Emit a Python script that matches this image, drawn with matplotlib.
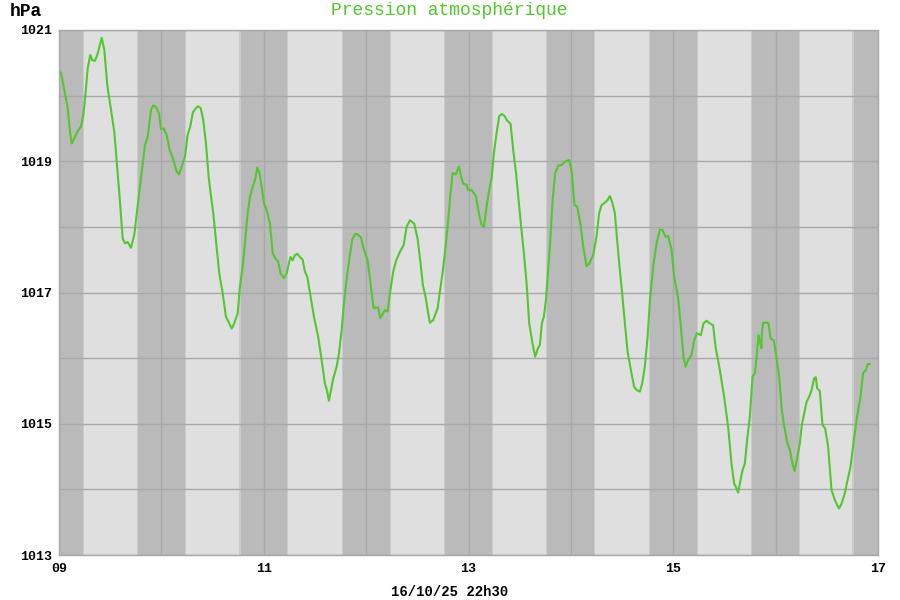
"""Pression atmosphérique : courbe sur 8 jours avec bandes jour/nuit."""

import matplotlib
import matplotlib.pyplot as plt
import numpy as np

matplotlib.use("Agg")

# heures écoulées depuis le 09 à 00h00
hours = [
    0.47, 1.24, 2.04, 2.58, 2.98, 3.59, 4.38, 5.16, 5.70, 6.26, 6.73, 7.34,
    7.80, 8.44, 9.07, 10.01, 10.62, 11.32, 12.02, 12.96, 13.66, 14.30, 14.93,
    15.47, 16.10, 16.88, 17.65, 18.45, 19.22, 20.16, 20.79, 21.56, 22.10,
    22.73, 23.44, 23.91, 24.54, 25.24, 25.95, 26.72, 27.59, 28.13, 28.76,
    29.53, 30.16, 30.77, 31.41, 31.88, 32.58, 33.21, 33.82, 34.45, 35.09,
    35.55, 36.16, 36.80, 37.57, 38.37, 39.14, 39.77, 40.48, 41.09, 41.88,
    42.42, 43.05, 43.59, 44.13, 44.77, 45.40, 45.94, 46.48, 46.95, 47.51,
    48.05, 48.68, 49.45, 50.09, 50.70, 51.40, 51.96, 52.73, 53.37, 53.98,
    54.30, 54.77, 55.31, 55.85, 56.48, 57.12, 57.66, 58.20, 58.99, 59.77,
    60.77, 61.57, 62.34, 62.81, 63.28, 63.75, 64.29, 65.09, 65.63, 66.26,
    66.87, 67.50, 68.13, 68.74, 69.38, 69.91, 70.78, 71.41, 72.35, 73.13,
    73.76, 74.23, 74.84, 75.30, 75.77, 76.41, 77.04, 77.58, 78.35, 79.05,
    79.92, 80.79, 81.49, 82.27, 83.27, 84.07, 84.68, 85.31, 85.95, 86.55,
    86.95, 87.73, 88.76, 89.37, 90.00, 90.63, 91.24, 91.71, 92.27, 93.05,
    93.75, 94.38, 94.76, 95.55, 95.93, 96.73, 97.73, 98.51, 99.07, 99.61,
    100.24, 100.85, 101.41, 101.95, 102.59, 103.20, 103.83, 104.46, 105.07,
    105.87, 106.48, 107.11, 107.74, 108.35, 108.98, 109.62, 110.23, 111.02,
    111.63, 112.27, 112.73, 113.20, 113.67, 114.14, 114.61, 115.08, 115.71,
    116.32, 117.12, 117.82, 118.52, 119.60, 120.23, 120.86, 121.48, 122.27,
    122.88, 123.68, 124.29, 125.23, 126.00, 126.63, 127.19, 127.97, 128.60,
    129.14, 129.68, 130.31, 130.78, 131.41, 132.02, 132.66, 133.29, 134.06,
    134.84, 135.47, 136.17, 136.71, 137.34, 137.98, 138.59, 139.38, 140.16,
    140.86, 141.49, 142.20, 142.80, 143.60, 144.21, 145.15, 145.78, 146.41,
    146.88, 147.49, 148.29, 148.90, 149.53, 150.47, 151.10, 151.80, 152.58,
    153.35, 153.91, 154.92, 155.93, 156.87, 157.66, 158.27, 158.67, 159.21,
    159.77, 160.24, 160.78, 161.32, 161.95, 162.59, 163.13, 163.52, 163.99,
    164.30, 164.70, 164.77, 165.07, 165.87, 166.34, 166.81, 167.58, 168.21,
    168.82, 169.45, 169.92, 170.70, 171.33, 171.96, 172.43, 173.04, 173.67,
    174.14, 174.61, 175.24, 175.85, 176.41, 177.02, 177.42, 177.73, 178.36,
    178.99, 179.60, 180.31, 181.10, 181.88, 182.42, 182.88, 183.44, 184.22,
    184.76, 185.55, 186.33, 187.10, 187.90, 188.51, 189.14, 189.61, 190.08,
]
pressure = [
    1020.35, 1020.09, 1019.81, 1019.45, 1019.27, 1019.35, 1019.46, 1019.53,
    1019.70, 1020.06, 1020.42, 1020.62, 1020.54, 1020.53, 1020.64, 1020.88,
    1020.70, 1020.16, 1019.86, 1019.45, 1018.89, 1018.38, 1017.82, 1017.75,
    1017.77, 1017.68, 1017.88, 1018.33, 1018.74, 1019.25, 1019.37, 1019.78,
    1019.85, 1019.83, 1019.73, 1019.49, 1019.50, 1019.40, 1019.17, 1019.04,
    1018.84, 1018.80, 1018.92, 1019.07, 1019.40, 1019.53, 1019.75, 1019.79,
    1019.84, 1019.81, 1019.63, 1019.27, 1018.76, 1018.51, 1018.21, 1017.80,
    1017.29, 1016.99, 1016.63, 1016.55, 1016.45, 1016.53, 1016.68, 1017.09,
    1017.39, 1017.75, 1018.15, 1018.46, 1018.61, 1018.71, 1018.90, 1018.84,
    1018.61, 1018.36, 1018.26, 1018.05, 1017.60, 1017.52, 1017.47, 1017.29,
    1017.22, 1017.29, 1017.47, 1017.54, 1017.49, 1017.57, 1017.59, 1017.54,
    1017.50, 1017.32, 1017.24, 1016.93, 1016.63, 1016.32, 1015.97, 1015.61,
    1015.51, 1015.35, 1015.51, 1015.69, 1015.87, 1016.07, 1016.43, 1016.88,
    1017.24, 1017.54, 1017.80, 1017.89, 1017.89, 1017.84, 1017.67, 1017.49,
    1017.09, 1016.76, 1016.77, 1016.77, 1016.61, 1016.66, 1016.73, 1016.71,
    1016.99, 1017.32, 1017.49, 1017.62, 1017.72, 1018.00, 1018.10, 1018.05,
    1017.82, 1017.49, 1017.11, 1016.93, 1016.68, 1016.54, 1016.58, 1016.76,
    1017.04, 1017.34, 1017.70, 1018.10, 1018.46, 1018.82, 1018.80, 1018.92,
    1018.74, 1018.66, 1018.64, 1018.56, 1018.56, 1018.47, 1018.18, 1018.03,
    1018.00, 1018.31, 1018.56, 1018.74, 1019.12, 1019.43, 1019.69, 1019.72,
    1019.69, 1019.62, 1019.57, 1019.17, 1018.84, 1018.41, 1018.00, 1017.60,
    1017.14, 1016.53, 1016.22, 1016.02, 1016.15, 1016.20, 1016.53, 1016.63,
    1016.88, 1017.29, 1017.70, 1018.41, 1018.82, 1018.94, 1018.94, 1018.99,
    1019.02, 1018.82, 1018.33, 1018.31, 1018.03, 1017.70, 1017.40, 1017.44,
    1017.57, 1017.85, 1018.21, 1018.33, 1018.37, 1018.41, 1018.47, 1018.38,
    1018.21, 1017.85, 1017.39, 1016.99, 1016.53, 1016.10, 1015.82, 1015.56,
    1015.51, 1015.49, 1015.61, 1015.87, 1016.32, 1016.93, 1017.44, 1017.77,
    1017.96, 1017.95, 1017.85, 1017.86, 1017.65, 1017.24, 1016.91, 1016.48,
    1016.02, 1015.87, 1015.97, 1016.05, 1016.27, 1016.38, 1016.35, 1016.53,
    1016.57, 1016.53, 1016.50, 1016.17, 1015.82, 1015.41, 1014.95, 1014.39,
    1014.09, 1014.04, 1013.95, 1014.14, 1014.29, 1014.39, 1014.75, 1015.11,
    1015.72, 1015.77, 1016.00, 1016.35, 1016.25, 1016.15, 1016.38, 1016.54,
    1016.54, 1016.53, 1016.30, 1016.27, 1016.00, 1015.72, 1015.21, 1015.00,
    1014.72, 1014.60, 1014.39, 1014.28, 1014.47, 1014.70, 1014.98, 1015.13,
    1015.33, 1015.41, 1015.51, 1015.69, 1015.71, 1015.54, 1015.50, 1014.98,
    1014.93, 1014.65, 1013.99, 1013.84, 1013.76, 1013.71, 1013.78, 1013.94,
    1014.11, 1014.34, 1014.75, 1015.11, 1015.41, 1015.77, 1015.82, 1015.91,
    1015.91,
]

# lever / coucher (heure locale) pour les jours 09 à 16
days = [9, 10, 11, 12, 13, 14, 15, 16]
sunrise = [5.55, 5.53, 5.51, 5.58, 5.55, 5.40, 5.50, 5.40]
sunset = [18.59, 18.59, 18.63, 18.50, 18.45, 18.50, 18.40, 18.30]

x_ticks = [9, 11, 13, 15, 17]
x_labels = ["09", "11", "13", "15", "17"]
y_ticks = [1013, 1015, 1017, 1019, 1021]

GREEN = "#52c72e"
DARK = "#bababa"
LIGHT = "#dfdfdf"
EDGE = "#cbcbcb"
GRID = "#a8a8a8"
MONO = "Liberation Mono"

fig = plt.figure(figsize=(9, 6), dpi=100)
ax = fig.add_axes([59 / 900, 45 / 600, 819 / 900, 525 / 600])
ax.set_facecolor(LIGHT)

# bandes de nuit (légèrement adoucies sur les bords)
soft = 0.012
nights = [(9.0, days[0] + sunrise[0] / 24)]
for i, d in enumerate(days):
    start = d + sunset[i] / 24
    end = d + 1 + sunrise[i + 1] / 24 if i + 1 < len(days) else 17.0
    nights.append((start, end))
for a, b in nights:
    ax.axvspan(a - soft, b + soft, color=EDGE, lw=0, zorder=0)
    ax.axvspan(a, b, color=DARK, lw=0, zorder=0)

t = 9 + np.array(hours) / 24
ax.plot(t, pressure, color=GREEN, lw=1.5, zorder=3)

ax.set_xlim(9, 17)
ax.set_ylim(1013, 1021)
ax.set_xticks(range(9, 18))
ax.set_xticklabels([x_labels[x_ticks.index(d)] if d in x_ticks else "" for d in range(9, 18)])
ax.set_yticks(range(1013, 1022))
ax.set_yticklabels([str(v) if v in y_ticks else "" for v in range(1013, 1022)])
ax.grid(True, color=GRID, lw=1, zorder=1)
ax.set_axisbelow(False)
for line in ax.get_xgridlines() + ax.get_ygridlines():
    line.set_zorder(1)
ax.tick_params(length=0, labelsize=9.5, pad=5)
ax.tick_params(axis="x", pad=6)
for lab in ax.get_xticklabels() + ax.get_yticklabels():
    lab.set_fontfamily(MONO)
    lab.set_fontweight("bold")
for s in ax.spines.values():
    s.set_color(GRID)
    s.set_linewidth(1)

fig.text(0.499, 0.983, "Pression atmosphérique", color=GREEN, fontsize=13,
         family=MONO, ha="center", va="center")
fig.text(10 / 900, 0.981, "hPa", fontsize=13, family=MONO, weight="bold",
         ha="left", va="center")
fig.text(0.50, 1 - 592 / 600, "16/10/25 22h30", fontsize=10, family=MONO,
         weight="bold", ha="center", va="center")

fig.savefig("out.png", dpi=100)
plt.close(fig)
